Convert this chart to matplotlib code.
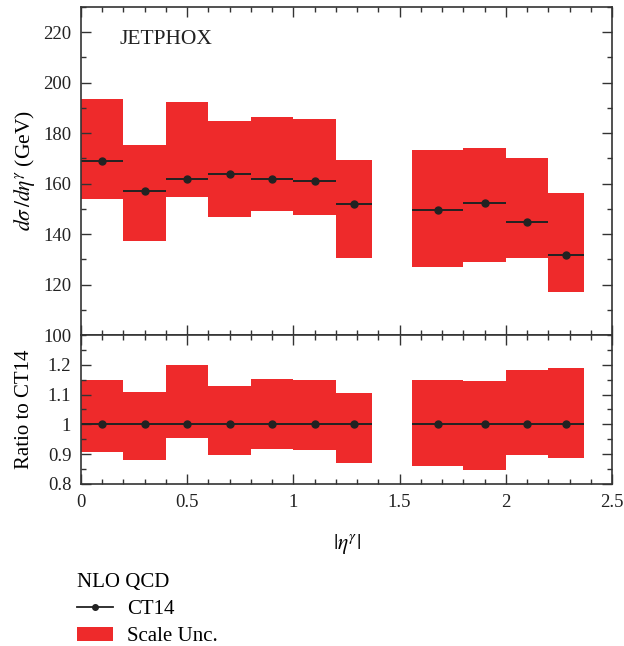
import matplotlib
matplotlib.use("Agg")
import matplotlib.pyplot as plt
import numpy as np
from matplotlib.lines import Line2D
from matplotlib.patches import Patch
from matplotlib.ticker import MultipleLocator

plt.rcParams['font.family'] = ['Liberation Serif', 'DejaVu Serif']
plt.rcParams['mathtext.fontset'] = 'stix'

# Bin edges (|eta^gamma|)
edges_lo = [0.0, 0.2, 0.4, 0.6, 0.8, 1.0, 1.2, 1.56, 1.8, 2.0, 2.2]
edges_hi = [0.2, 0.4, 0.6, 0.8, 1.0, 1.2, 1.37, 1.8, 2.0, 2.2, 2.37]

# CT14 central values (GeV)
ct14 = [168.9, 157.0, 161.8, 163.9, 162.0, 161.2, 152.0, 149.6, 152.2, 144.6, 131.6]
# Scale uncertainty band (GeV)
scale_hi = [193.5, 175.4, 192.3, 184.9, 186.4, 185.8, 169.3, 173.4, 174.2, 170.1, 156.1]
scale_lo = [153.8, 137.4, 154.6, 146.9, 149.1, 147.6, 130.4, 127.1, 128.8, 130.4, 117.2]

# Ratio panel band
ratio_hi = [1.150, 1.110, 1.199, 1.128, 1.154, 1.150, 1.105, 1.148, 1.145, 1.183, 1.190]
ratio_lo = [0.906, 0.881, 0.954, 0.897, 0.918, 0.915, 0.869, 0.860, 0.847, 0.897, 0.888]
ratio_c = [1.0] * 11

red = '#EE2A2B'
dark = '#222222'

lo = np.array(edges_lo)
hi = np.array(edges_hi)
cen = (lo + hi) / 2
xerr = [cen - lo, hi - cen]

fig = plt.figure(figsize=(6.24, 6.46), dpi=100)
L, R = 81 / 624, 612 / 624
ax1 = fig.add_axes([L, 1 - 335 / 646, R - L, (335 - 7) / 646])
ax2 = fig.add_axes([L, 1 - 484 / 646, R - L, (484 - 335) / 646])

for ax in (ax1, ax2):
    ax.set_xlim(0, 2.5)
    ax.xaxis.set_major_locator(MultipleLocator(0.5))
    ax.xaxis.set_minor_locator(MultipleLocator(0.1))
    ax.tick_params(which='both', direction='in', top=True, right=True, width=1.0, colors='#333333', labelcolor='#222222')
    ax.tick_params(which='major', length=7, labelsize=13.5, pad=7)
    ax.tick_params(which='minor', length=3.5)
    for s in ax.spines.values():
        s.set_linewidth(1.2)
        s.set_color('#333333')

# Top panel
ax1.bar(lo, np.array(scale_hi) - np.array(scale_lo), width=hi - lo, bottom=scale_lo,
        align='edge', color=red, linewidth=0)
ax1.errorbar(cen, ct14, xerr=xerr, fmt='o', color=dark, ms=5, elinewidth=1.4, capsize=0)
ax1.set_ylim(100, 230)
ax1.yaxis.set_major_locator(MultipleLocator(20))
ax1.yaxis.set_minor_locator(MultipleLocator(10))
ax1.tick_params(labelbottom=False)
ax1.set_yticks([100, 120, 140, 160, 180, 200, 220])
ax1.set_ylabel(r'$d\sigma\,/d\eta^{\gamma}$ (GeV)', fontsize=15.5)
ax1.yaxis.set_label_coords(-0.083, 0.5)
ax1.text(0.0716, 0.887, 'JETPHOX', transform=ax1.transAxes, fontsize=15.5, va='baseline', color='#222222')

# Ratio panel
ax2.bar(lo, np.array(ratio_hi) - np.array(ratio_lo), width=hi - lo, bottom=ratio_lo,
        align='edge', color=red, linewidth=0)
ax2.errorbar(cen, ratio_c, xerr=xerr, fmt='o', color=dark, ms=5, elinewidth=1.4, capsize=0)
ax2.set_ylim(0.8, 1.3)
ax2.yaxis.set_major_locator(MultipleLocator(0.1))
ax2.yaxis.set_minor_locator(MultipleLocator(0.05))
ax2.set_yticks([0.8, 0.9, 1.0, 1.1, 1.2])
ax2.set_yticklabels(['0.8', '0.9', '1', '1.1', '1.2'])
ax2.set_xticks([0, 0.5, 1, 1.5, 2, 2.5])
ax2.set_xticklabels(['0', '0.5', '1', '1.5', '2', '2.5'])
ax2.tick_params(axis='x', which='major', pad=7)
ax2.set_ylabel('Ratio to CT14', fontsize=15)
ax2.yaxis.set_label_coords(-0.088, 0.5)
ax2.set_xlabel(r'$|\eta^{\gamma}|$', fontsize=15.5, labelpad=15)

handles = [Line2D([0], [0], color=dark, marker='o', ms=4, lw=1.3),
           Patch(facecolor=red, edgecolor='none')]
leg = fig.legend(handles, ['CT14', 'Scale Unc.'], title='NLO QCD', loc='upper left',
                 bbox_to_anchor=(0.1, 0.135), frameon=False, fontsize=15, title_fontsize=15,
                 alignment='left', handlelength=1.75, handletextpad=0.65, labelspacing=0.35,
                 borderpad=0.2)

fig.savefig('out.png', dpi=100)
